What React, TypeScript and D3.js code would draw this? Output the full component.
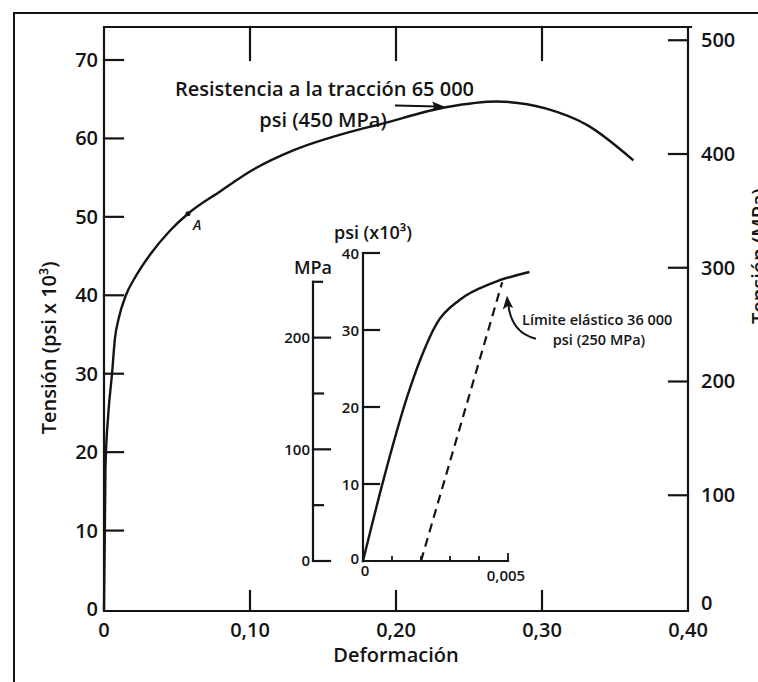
import React, { useRef, useEffect } from 'react';
import * as d3 from 'd3';

// Main curve: strain vs stress (psi x 10^3)
const mainStrain = [0, 0.001, 0.003, 0.0055, 0.0075, 0.01, 0.015, 0.022, 0.032, 0.045, 0.0575, 0.08, 0.102, 0.13, 0.168, 0.189, 0.235, 0.269, 0.303, 0.331, 0.362];
const mainStress = [0, 18, 25, 30, 34.5, 37, 40, 42.5, 45.3, 48.2, 50.4, 53.3, 56, 58.5, 60.8, 61.8, 64, 64.7, 63.8, 61.7, 57.3];

// Inset curve (elastic region)
const insetStrain = [0, 0.00071, 0.00153, 0.00197, 0.00255, 0.00333, 0.00446, 0.0057];
const insetStress = [0, 10.6, 21.4, 26.1, 30.9, 33.9, 36.1, 37.5];

// 0.2 % offset line
const offsetStrain = [0.002, 0.0048];
const offsetStress = [0, 36.2];

// Axis ticks
const psiTicks = [10, 20, 30, 40, 50, 60, 70];
const psiLabels = [0, 10, 20, 30, 40, 50, 60, 70];
const mpaTicks = [100, 200, 300, 400, 500];
const mpaLabels = [0, 100, 200, 300, 400, 500];
const strainTicks = [0.1, 0.2, 0.3];
const strainLabels = ['0', '0,10', '0,20', '0,30', '0,40'];
const strainLabelValues = [0, 0.1, 0.2, 0.3, 0.4];

const insetPsiTicks = [10, 20, 30, 40];
const insetPsiLabels = [0, 10, 20, 30, 40];
const insetMpaTicks = [0, 50, 100, 150, 200, 250];
const insetMpaLabels = [0, 100, 200];
const insetStrainTicks = [0.001, 0.002, 0.003, 0.004, 0.005];

const MPA_TO_KSI = 0.145038;
const INK = '#141414';
const FONT = '"Open Sans", sans-serif';

const App = () => {
  const svgRef = useRef<SVGSVGElement>(null);

  useEffect(() => {
    const svg = d3.select(svgRef.current);
    svg.selectAll('*').remove();

    // scales
    const x = d3.scaleLinear().domain([0, 0.4]).range([104, 688]);
    const y = d3.scaleLinear().domain([0, 70]).range([609, 60]);
    const yMpa = (v: number) => y(v * MPA_TO_KSI);

    const xi = d3.scaleLinear().domain([0, 0.005]).range([363, 508]);
    const yi = d3.scaleLinear().domain([0, 40]).range([561, 253]);
    const yiMpa = (v: number) => yi(v * MPA_TO_KSI);
    const mpaAxisX = 313;

    const g = svg.append('g')
      .attr('stroke', INK)
      .attr('fill', 'none')
      .attr('stroke-linecap', 'square');

    // scan frame
    g.append('path')
      .attr('d', 'M14,682 V13 H758')
      .attr('stroke-width', 2);

    // main box
    const top = 27;
    const right = x(0.4);
    g.append('path')
      .attr('d', `M${x(0)},${y(0)} V${top} H${right + 3} M${right},${top} V${y(0) + 2} H${x(0)}`)
      .attr('stroke-width', 2.2);

    // left ticks
    psiTicks.forEach(t => {
      g.append('line')
        .attr('x1', x(0)).attr('x2', x(0) + 19)
        .attr('y1', y(t)).attr('y2', y(t))
        .attr('stroke-width', 2.2);
    });
    // right ticks
    mpaTicks.forEach(t => {
      g.append('line')
        .attr('x1', right).attr('x2', right - 19)
        .attr('y1', yMpa(t)).attr('y2', yMpa(t))
        .attr('stroke-width', 2.2);
    });
    // bottom & top ticks
    strainTicks.forEach(t => {
      g.append('line')
        .attr('x1', x(t)).attr('x2', x(t))
        .attr('y1', y(0)).attr('y2', y(0) - 18)
        .attr('stroke-width', 2.2);
      g.append('line')
        .attr('x1', x(t)).attr('x2', x(t))
        .attr('y1', top).attr('y2', top + 33)
        .attr('stroke-width', 2.2);
    });

    const txt = svg.append('g')
      .attr('fill', INK)
      .attr('font-family', FONT)
      .attr('font-weight', 600);

    psiLabels.forEach(t => {
      txt.append('text')
        .attr('x', x(0) - 6).attr('y', y(t))
        .attr('dy', '0.35em')
        .attr('text-anchor', 'end')
        .attr('font-size', 20)
        .text(t);
    });
    mpaLabels.forEach(t => {
      txt.append('text')
        .attr('x', right + 13).attr('y', t === 0 ? yMpa(t) - 6 : yMpa(t))
        .attr('dy', '0.35em')
        .attr('font-size', 20)
        .text(t);
    });
    strainLabelValues.forEach((t, i) => {
      txt.append('text')
        .attr('x', x(t)).attr('y', y(0) + 28)
        .attr('text-anchor', 'middle')
        .attr('font-size', 20)
        .text(strainLabels[i]);
    });

    txt.append('text')
      .attr('x', x(0.2)).attr('y', 662)
      .attr('text-anchor', 'middle')
      .attr('font-size', 20)
      .text('Deformación');

    txt.append('text')
      .attr('transform', `translate(56,${y(33.3)}) rotate(-90)`)
      .attr('text-anchor', 'middle')
      .attr('font-size', 20)
      .text('Tensión (psi x 10³)');

    txt.append('text')
      .attr('transform', `translate(766,${y(45)}) rotate(-90)`)
      .attr('text-anchor', 'middle')
      .attr('font-size', 20)
      .text('Tensión (MPa)');

    // main curve
    const line = d3.line<number>()
      .x((d, i) => x(mainStrain[i]))
      .y(d => y(d))
      .curve(d3.curveMonotoneX);
    g.append('path')
      .attr('d', line(mainStress))
      .attr('stroke-width', 2.4);

    // point A
    svg.append('circle')
      .attr('cx', x(0.0575)).attr('cy', y(50.4))
      .attr('r', 2.5).attr('fill', INK);
    txt.append('text')
      .attr('x', x(0.0575) + 5).attr('y', y(50.4) + 16)
      .attr('font-size', 14)
      .attr('font-style', 'italic')
      .text('A');

    // tensile strength annotation
    txt.append('text')
      .attr('x', 175).attr('y', y(66.3))
      .attr('dy', '0.35em')
      .attr('font-size', 20)
      .text('Resistencia a la tracción 65 000');
    txt.append('text')
      .attr('x', 323).attr('y', y(62.4))
      .attr('dy', '0.35em')
      .attr('text-anchor', 'middle')
      .attr('font-size', 20)
      .text('psi (450 MPa)');

    const arrowY = y(64.2);
    g.append('line')
      .attr('x1', x(0.2)).attr('x2', x(0.233) - 8)
      .attr('y1', arrowY).attr('y2', arrowY + 1)
      .attr('stroke-width', 2);
    svg.append('path')
      .attr('d', `M${x(0.233)},${arrowY + 1} l-12,-5 l2,5 l-2,5 z`)
      .attr('fill', INK);

    // ---- inset ----
    // psi axis
    g.append('path')
      .attr('d', `M${xi(0)},${yi(40)} V${yi(0)} H${xi(0.005)}`)
      .attr('stroke-width', 2.2);
    insetPsiTicks.forEach(t => {
      g.append('line')
        .attr('x1', xi(0)).attr('x2', xi(0) + 16)
        .attr('y1', yi(t)).attr('y2', yi(t))
        .attr('stroke-width', 2.2);
    });
    insetPsiLabels.forEach(t => {
      txt.append('text')
        .attr('x', xi(0) - 4).attr('y', t === 0 ? yi(t) - 2 : yi(t) + 1)
        .attr('dy', '0.35em')
        .attr('text-anchor', 'end')
        .attr('font-size', 15)
        .text(t);
    });
    insetStrainTicks.forEach(t => {
      g.append('line')
        .attr('x1', xi(t)).attr('x2', xi(t))
        .attr('y1', yi(0)).attr('y2', yi(0) - (t === 0.005 ? 7 : 4))
        .attr('stroke-width', 1.8);
    });
    txt.append('text')
      .attr('x', xi(0) + 2).attr('y', yi(0) + 15)
      .attr('text-anchor', 'middle')
      .attr('font-size', 15)
      .text('0');
    txt.append('text')
      .attr('x', xi(0.005) - 2).attr('y', yi(0) + 20)
      .attr('text-anchor', 'middle')
      .attr('font-size', 15)
      .text('0,005');
    txt.append('text')
      .attr('x', 373).attr('y', 233)
      .attr('dy', '0.35em')
      .attr('text-anchor', 'middle')
      .attr('font-size', 18)
      .text('psi (x10³)');

    // MPa axis
    g.append('line')
      .attr('x1', mpaAxisX).attr('x2', mpaAxisX)
      .attr('y1', yiMpa(250)).attr('y2', yiMpa(0))
      .attr('stroke-width', 2.2);
    insetMpaTicks.forEach(t => {
      const len = t % 100 === 0 ? 17 : (t === 250 ? 9 : 10);
      g.append('line')
        .attr('x1', mpaAxisX).attr('x2', mpaAxisX + len)
        .attr('y1', yiMpa(t)).attr('y2', yiMpa(t))
        .attr('stroke-width', 2.2);
    });
    insetMpaLabels.forEach(t => {
      txt.append('text')
        .attr('x', mpaAxisX - 3).attr('y', yiMpa(t))
        .attr('dy', '0.35em')
        .attr('text-anchor', 'end')
        .attr('font-size', 15)
        .text(t);
    });
    txt.append('text')
      .attr('x', 313).attr('y', 268)
      .attr('dy', '0.35em')
      .attr('text-anchor', 'middle')
      .attr('font-size', 18)
      .text('MPa');

    // inset curve
    const iline = d3.line<number>()
      .x((d, i) => xi(insetStrain[i]))
      .y(d => yi(d))
      .curve(d3.curveMonotoneX);
    g.append('path')
      .attr('d', iline(insetStress))
      .attr('stroke-width', 2.4);

    // offset dashed line
    const oline = d3.line<number>()
      .x((d, i) => xi(offsetStrain[i]))
      .y(d => yi(d));
    g.append('path')
      .attr('d', oline(offsetStress))
      .attr('stroke-width', 2.2)
      .attr('stroke-linecap', 'butt')
      .attr('stroke-dasharray', '9,6');

    // yield annotation
    const tipX = xi(0.00497), tipY = yi(34.2);
    const tailX = xi(0.00593), tailY = yi(28.9);
    g.append('path')
      .attr('d', `M${tailX},${tailY} Q${tipX + 4},${tailY - 6} ${tipX + 1},${tipY + 6}`)
      .attr('stroke-width', 2);
    svg.append('path')
      .attr('d', `M${tipX},${tipY} l-3,10 l3.5,-2.5 l4,1.5 z`)
      .attr('fill', INK)
      .attr('stroke', INK)
      .attr('stroke-width', 1.5);
    txt.append('text')
      .attr('x', 522).attr('y', 320)
      .attr('dy', '0.35em')
      .attr('font-size', 14.5)
      .text('Límite elástico 36 000');
    txt.append('text')
      .attr('x', 599).attr('y', 340)
      .attr('dy', '0.35em')
      .attr('text-anchor', 'middle')
      .attr('font-size', 14.5)
      .text('psi (250 MPa)');
  }, []);

  return (
    <svg
      ref={svgRef}
      width={758}
      height={682}
      style={{ position: 'absolute', left: 0, top: 0, background: '#fff' }}
    />
  );
};

export default App;
